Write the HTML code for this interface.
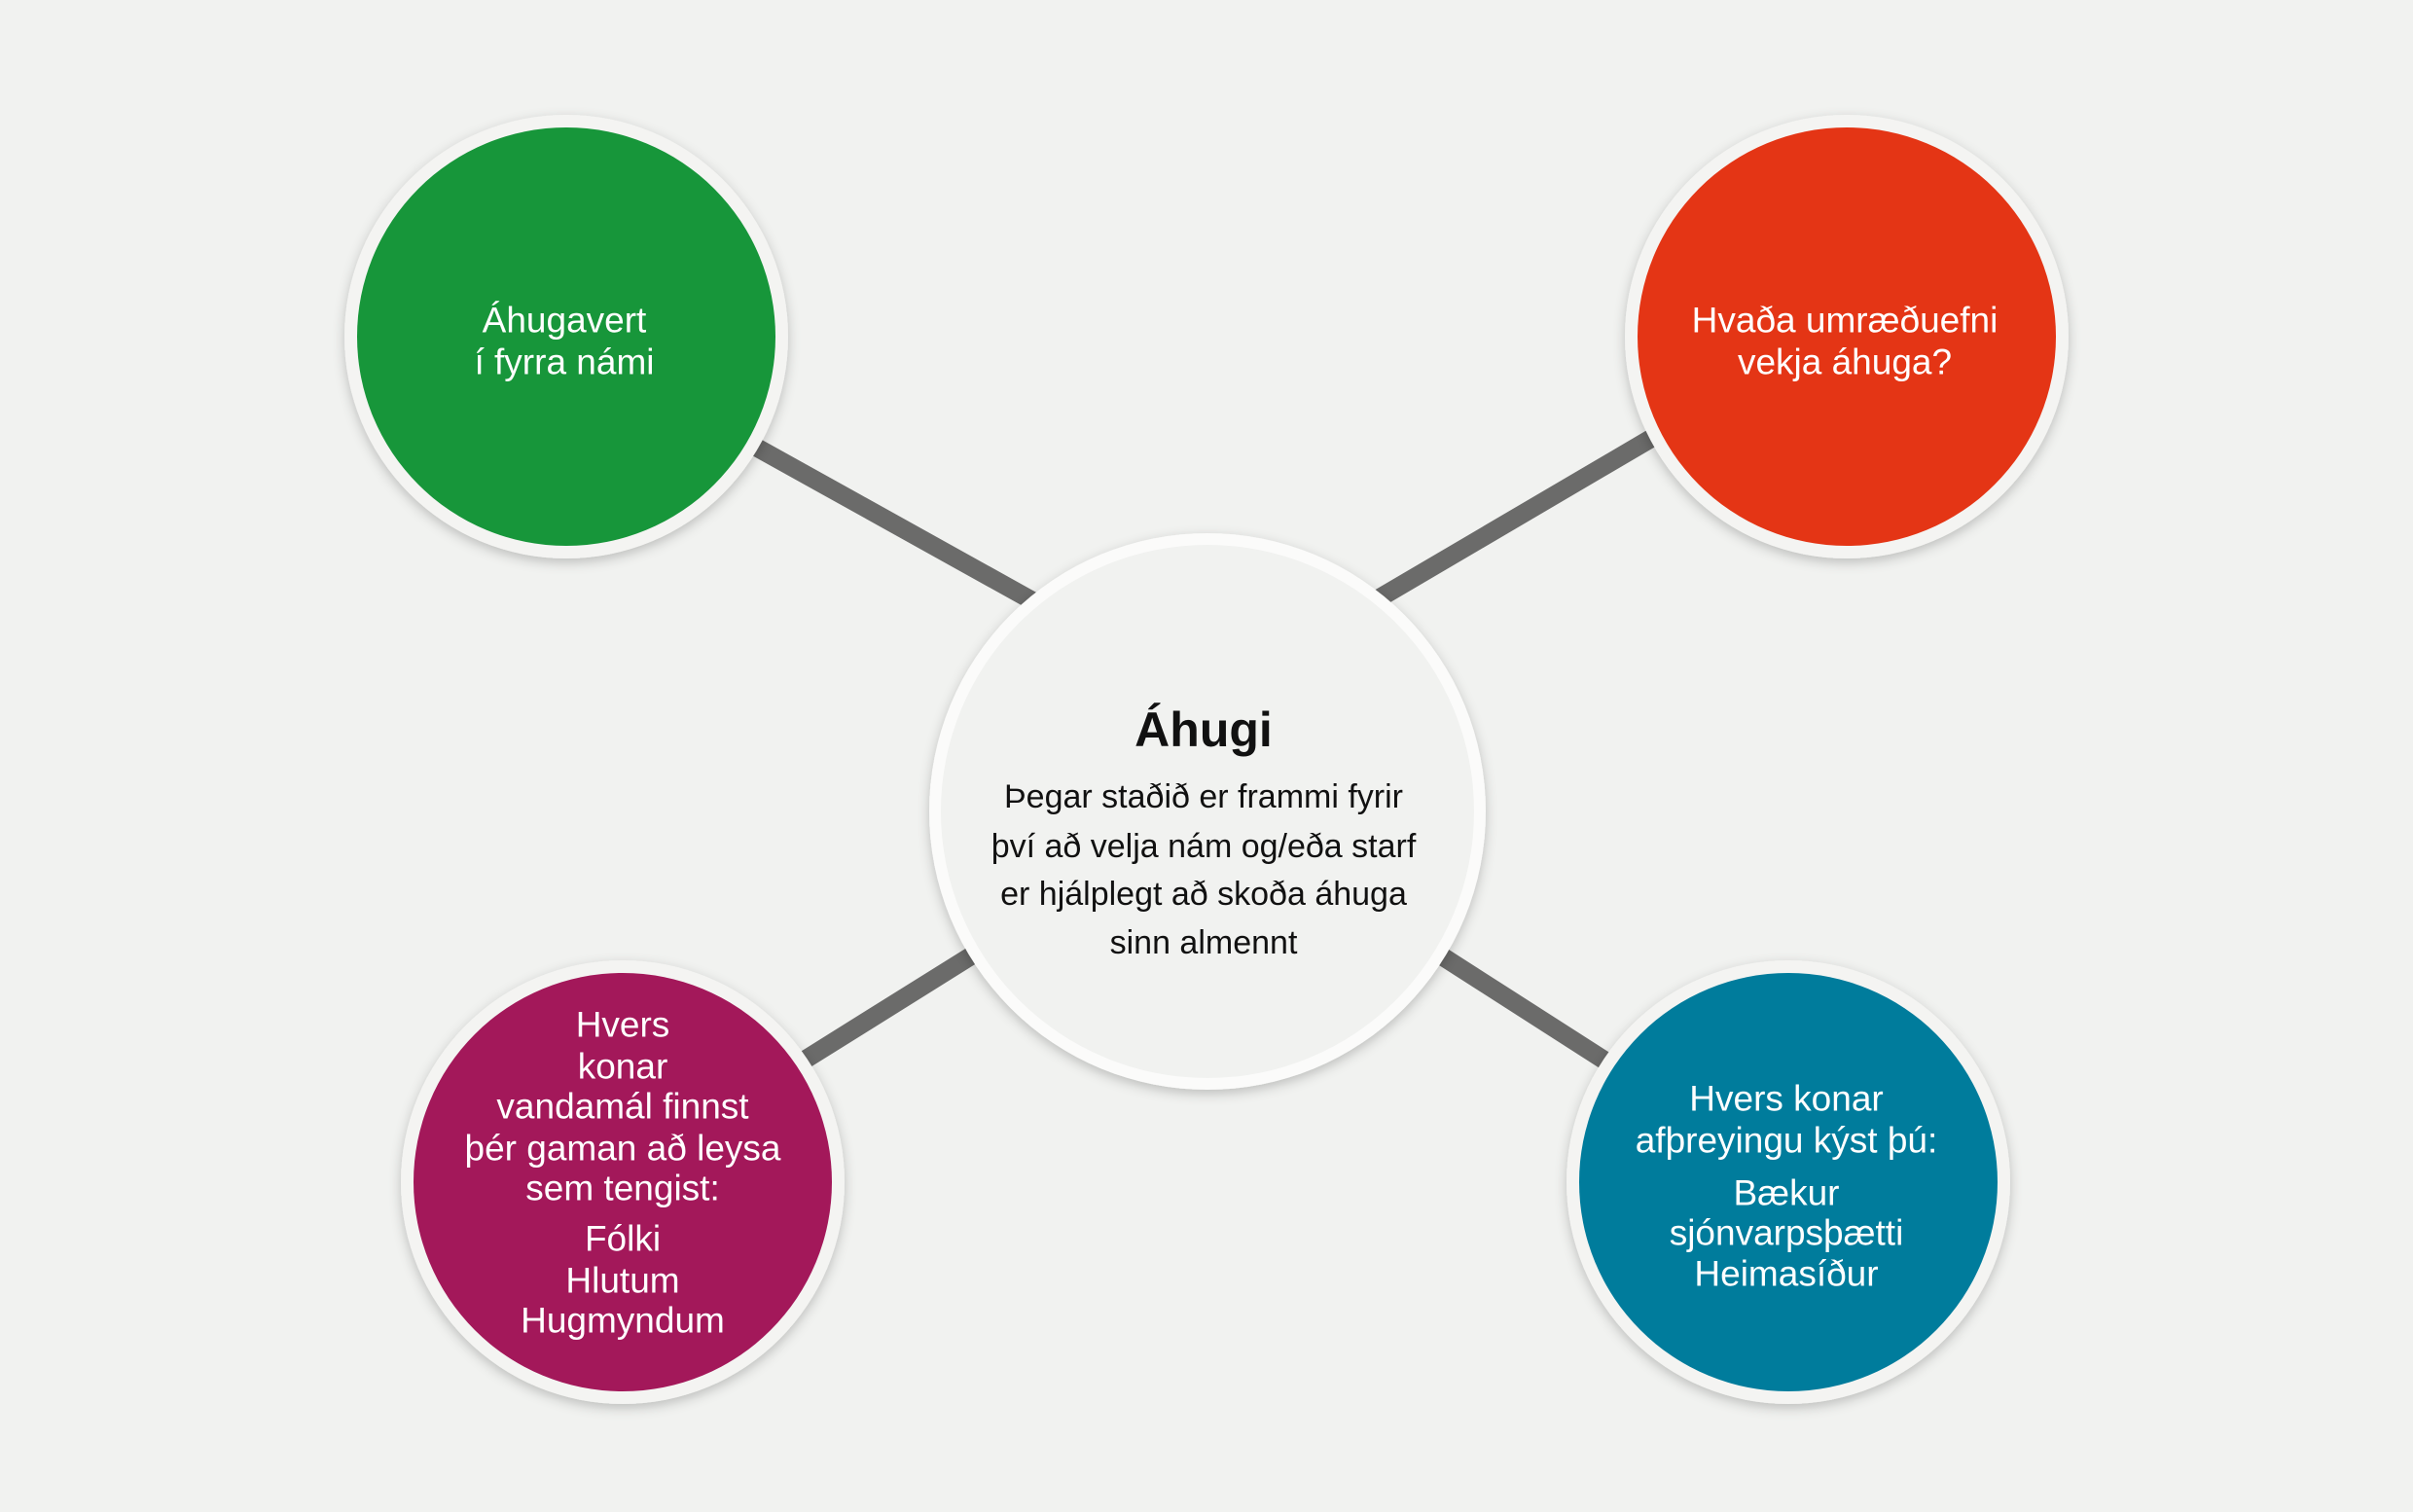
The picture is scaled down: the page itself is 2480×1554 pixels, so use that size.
<!DOCTYPE html>
<html><head><meta charset="utf-8"><style>
html,body{margin:0;padding:0;background:#f1f2f0;}
svg{display:block;}
text{font-family:"Liberation Sans",sans-serif;text-anchor:middle;dominant-baseline:central;}
.w{fill:#fff;font-size:37px;}
.b{fill:#111;font-size:34px;}
</style></head><body>
<svg width="2480" height="1554" viewBox="0 0 2480 1554" xmlns="http://www.w3.org/2000/svg">
<defs>
<filter id="sh" x="-20%" y="-20%" width="140%" height="140%">
<feDropShadow dx="0" dy="4" stdDeviation="6" flood-color="#000" flood-opacity="0.22"/>
</filter>
</defs>
<rect width="2480" height="1554" fill="#f1f2f0"/>
<g stroke="#6b6b6a" stroke-width="19" stroke-linecap="butt">
<line x1="760" y1="450" x2="1080" y2="628"/>
<line x1="1715" y1="440" x2="1400" y2="625"/>
<line x1="810" y1="1100" x2="1010" y2="975"/>
<line x1="1665" y1="1100" x2="1470" y2="975"/>
</g>
<g filter="url(#sh)">
<circle cx="582" cy="346" r="228" fill="#f4f4f2"/>
<circle cx="1898" cy="346" r="228" fill="#f4f4f2"/>
<circle cx="640" cy="1215" r="228" fill="#f4f4f2"/>
<circle cx="1838" cy="1215" r="228" fill="#f4f4f2"/>
<circle cx="1241" cy="834" r="286" fill="#fbfbfa"/>
</g>
<circle cx="582" cy="346" r="215" fill="#17963a"/>
<circle cx="1898" cy="346" r="215" fill="#e43515"/>
<circle cx="640" cy="1215" r="215" fill="#a3185a"/>
<circle cx="1838" cy="1215" r="215" fill="#007c9c"/>
<circle cx="1241" cy="834" r="274" fill="#f1f2f0"/>

<text class="w" x="580" y="329">Áhugavert</text>
<text class="w" x="580" y="372">í fyrra námi</text>

<text class="w" x="1896" y="329">Hvaða umræðuefni</text>
<text class="w" x="1896" y="372">vekja áhuga?</text>

<text class="w" x="640" y="1053">Hvers</text>
<text class="w" x="640" y="1096">konar</text>
<text class="w" x="640" y="1137">vandamál finnst</text>
<text class="w" x="640" y="1180">þér gaman að leysa</text>
<text class="w" x="640" y="1221">sem tengist:</text>
<text class="w" x="640" y="1273">Fólki</text>
<text class="w" x="640" y="1316">Hlutum</text>
<text class="w" x="640" y="1357">Hugmyndum</text>

<text class="w" x="1836" y="1129">Hvers konar</text>
<text class="w" x="1836" y="1172">afþreyingu kýst þú:</text>
<text class="w" x="1836" y="1226">Bækur</text>
<text class="w" x="1836" y="1267">sjónvarpsþætti</text>
<text class="w" x="1836" y="1309">Heimasíður</text>

<text x="1237" y="750" style="font-size:50px;font-weight:bold;fill:#111;">Áhugi</text>
<text class="b" x="1237" y="819">Þegar staðið er frammi fyrir</text>
<text class="b" x="1237" y="870">því að velja nám og/eða starf</text>
<text class="b" x="1237" y="919">er hjálplegt að skoða áhuga</text>
<text class="b" x="1237" y="969">sinn almennt</text>
</svg>
</body></html>
